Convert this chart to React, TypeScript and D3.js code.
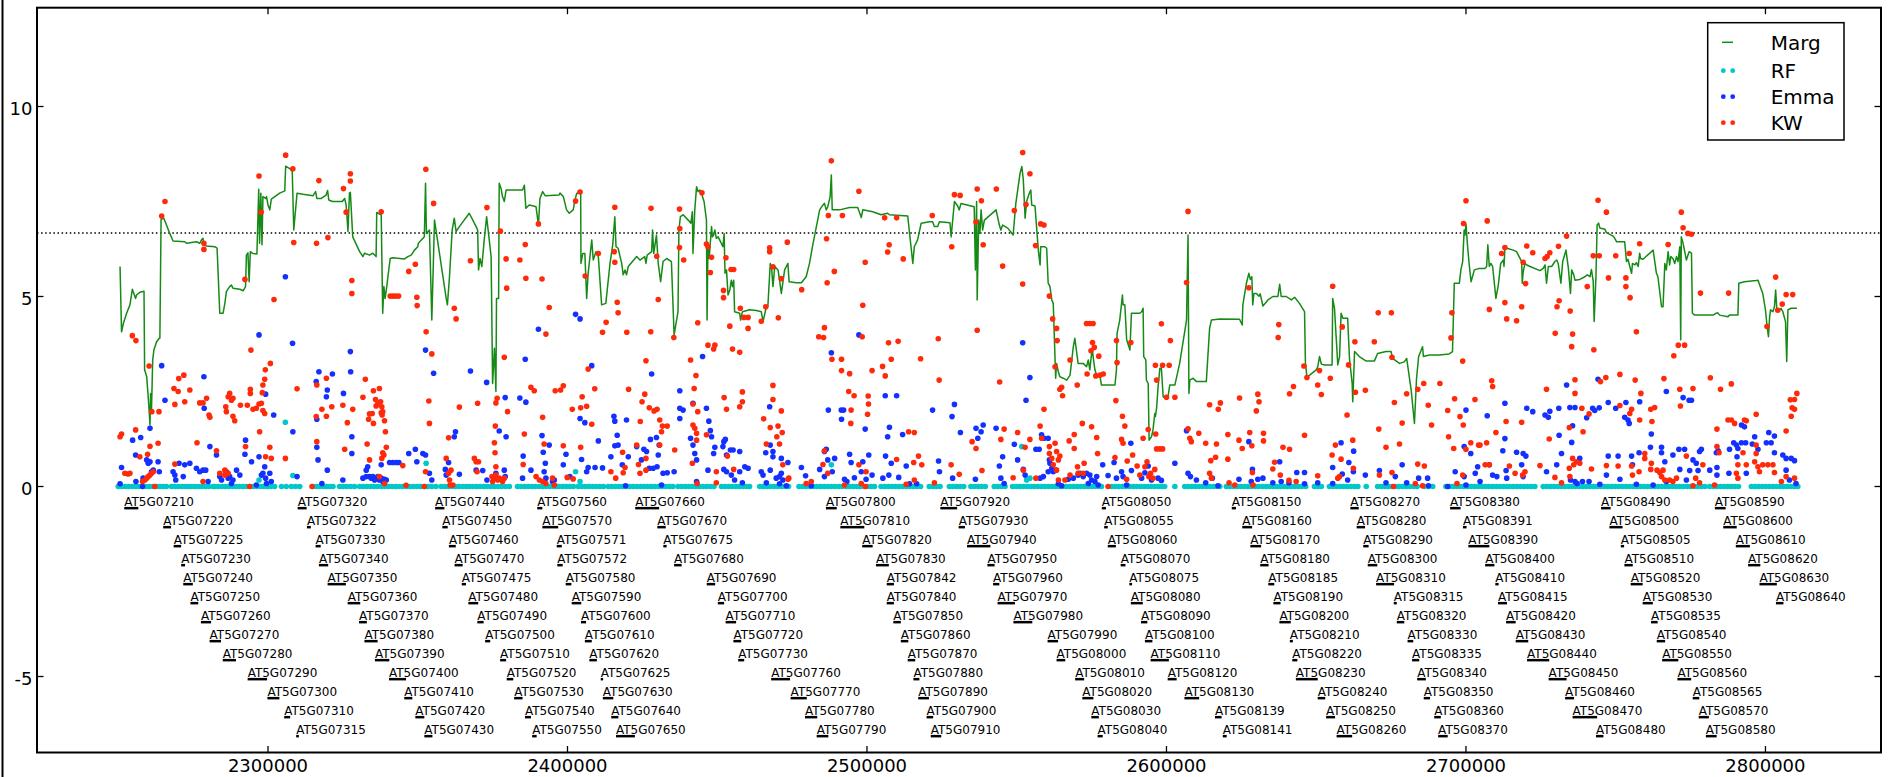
import React from 'react';
import * as d3 from 'd3';

// Axis limits and ticks
const xLimits = [2222870, 2838580];
const yLimits = [-7, 12.6];
const xTickValues = [2300000, 2400000, 2500000, 2600000, 2700000, 2800000];
const yTickValues = [-5, 0, 5, 10];
const threshold = 6.67;

// Marg score trace: [position (kb), score]
const margTrace: [number, number][] = [
[2250.6,5.79],[2251.1,4.07],[2251.7,4.29],[2252.8,4.56],[2253.9,4.78],[2254.7,5.19],[2255.8,4.95],[2256.1,5.04],[2257.2,5.11],[2258.6,5.14],[2258.8,3.07],[2259.5,2.89],[2260.0,2.36],[2260.3,2.01],[2260.6,1.62],[2260.8,2.45],[2261.1,2.01],[2261.5,3.33],[2261.9,3.59],[2262.8,3.81],[2263.7,3.90],[2263.9,3.90],[2264.3,7.03],[2265.2,7.06],[2266.1,6.88],[2267.2,6.66],[2268.3,6.46],[2272.2,6.44],[2272.8,6.40],[2274.5,6.42],[2276.1,6.44],[2277.2,6.40],[2277.8,6.49],[2278.3,6.53],[2278.6,6.36],[2279.5,6.33],[2282.2,6.31],[2283.0,6.27],[2283.9,4.56],[2285.0,4.56],[2285.6,4.82],[2286.1,5.13],[2287.2,5.26],[2287.8,5.30],[2288.3,5.22],[2290.6,5.19],[2291.7,5.15],[2292.5,5.26],[2292.8,6.09],[2293.3,6.15],[2293.7,5.39],[2294.1,6.18],[2295.0,6.13],[2296.3,6.12],[2296.9,7.82],[2297.2,6.40],[2297.6,7.72],[2298.0,6.36],[2298.3,7.63],[2299.2,7.58],[2299.5,7.63],[2300.0,7.41],[2300.6,7.28],[2301.1,7.56],[2303.9,7.72],[2305.6,7.78],[2305.9,8.43],[2307.5,8.35],[2308.1,8.29],[2308.6,6.75],[2309.7,7.72],[2311.7,7.69],[2315.0,7.65],[2315.9,7.76],[2316.3,7.58],[2317.8,7.58],[2319.4,7.67],[2319.9,7.79],[2320.3,7.54],[2321.5,7.50],[2324.8,7.50],[2325.6,7.58],[2326.1,7.41],[2326.7,6.71],[2327.2,7.72],[2327.5,7.74],[2328.3,6.57],[2330.6,6.18],[2331.7,6.05],[2332.2,6.14],[2333.9,6.09],[2335.0,6.14],[2336.1,6.05],[2336.3,7.21],[2337.2,7.17],[2337.8,7.15],[2338.3,4.56],[2338.7,5.26],[2339.1,4.95],[2339.5,5.17],[2340.8,6.00],[2341.7,6.02],[2345.6,5.99],[2346.7,6.05],[2347.8,6.09],[2348.9,6.22],[2350.0,6.31],[2350.2,6.40],[2352.2,6.57],[2352.6,7.98],[2352.9,6.66],[2353.9,6.75],[2354.7,4.38],[2355.6,7.01],[2359.5,4.95],[2359.9,4.78],[2360.6,5.52],[2361.5,6.75],[2362.2,7.06],[2362.8,6.71],[2363.9,6.84],[2367.2,7.19],[2369.5,6.84],[2370.0,6.75],[2370.3,5.70],[2370.8,6.00],[2371.4,5.79],[2372.2,6.49],[2373.0,7.10],[2374.5,6.05],[2375.0,2.71],[2375.6,3.64],[2376.1,2.50],[2376.3,4.95],[2377.0,4.95],[2377.2,7.98],[2377.8,7.85],[2378.3,7.63],[2378.9,7.50],[2379.5,7.80],[2385.0,7.80],[2385.6,7.93],[2386.1,7.32],[2387.2,7.41],[2388.3,7.39],[2389.5,7.36],[2390.3,6.88],[2390.8,7.58],[2391.7,7.76],[2392.6,7.65],[2397.2,7.67],
[2397.5,7.72],[2398.6,7.63],[2399.7,7.28],[2400.6,7.19],[2401.9,7.28],[2402.5,7.54],[2403.1,7.72],[2404.4,7.72],[2404.5,5.87],[2405.1,6.13],[2405.8,6.13],[2406.4,4.95],[2406.9,5.61],[2408.1,6.49],[2408.6,5.96],[2409.5,6.18],[2410.3,6.05],[2411.4,4.78],[2412.8,4.82],[2414.2,5.87],[2415.1,6.36],[2415.8,7.10],[2416.2,6.31],[2416.9,6.27],[2418.1,5.87],[2418.6,5.57],[2419.2,5.70],[2419.7,5.57],[2420.3,5.79],[2423.1,6.05],[2424.2,5.96],[2425.8,6.05],[2426.2,5.87],[2426.6,6.09],[2428.1,6.18],[2428.4,6.75],[2428.8,6.13],[2429.7,6.62],[2430.3,5.87],[2431.1,5.39],[2431.9,5.92],[2433.1,6.00],[2434.7,5.92],[2435.6,3.99],[2436.9,4.60],[2437.2,6.75],[2437.7,7.10],[2438.6,7.15],[2440.3,7.01],[2441.2,6.93],[2441.7,7.23],[2441.9,6.13],[2442.5,7.28],[2443.1,7.89],[2443.6,7.76],[2444.2,7.80],[2444.7,7.72],[2445.6,7.50],[2446.4,7.01],[2446.6,4.38],[2446.9,6.31],[2447.3,6.00],[2448.1,6.84],[2448.4,6.57],[2448.8,6.62],[2449.2,6.75],[2449.7,6.53],[2450.3,6.57],[2450.8,6.49],[2451.9,6.31],[2452.3,6.66],[2452.6,5.61],[2453.1,5.70],[2453.6,5.04],[2454.2,5.17],[2454.7,5.43],[2455.1,5.26],[2455.5,5.43],[2455.8,4.60],[2457.5,4.56],[2457.8,4.38],[2458.4,4.60],[2460.8,4.65],[2463.1,4.63],[2464.7,4.60],[2465.3,4.34],[2466.4,4.73],[2466.9,4.73],[2467.7,5.87],[2468.2,5.70],[2468.6,5.26],[2469.2,5.79],[2470.3,5.70],[2470.8,5.43],[2471.4,5.08],[2472.5,5.70],[2473.6,5.87],[2474.0,5.39],[2476.4,5.36],[2478.1,5.36],[2479.7,5.52],[2480.8,5.87],[2482.0,6.40],[2483.1,6.84],[2484.2,7.28],[2485.3,7.41],[2485.8,7.45],[2486.4,7.28],[2486.9,7.36],[2487.7,7.63],[2488.1,8.20],[2488.4,7.28],[2490.8,7.28],[2494.2,7.34],[2496.9,7.34],[2497.5,7.21],[2498.1,7.08],[2498.6,7.28],[2501.9,7.23],[2504.7,7.15],[2506.9,7.19],[2507.5,7.15],[2513.6,7.12],[2515.3,5.87],[2515.8,6.31],[2516.9,6.49],[2518.1,6.93],[2520.8,6.97],[2521.9,6.97],[2522.5,6.84],[2523.6,6.84],[2524.2,6.97],[2527.7,6.94],[2528.1,6.57],[2529.2,7.50],[2530.3,7.38],[2530.8,7.28],[2531.4,7.45],[2535.8,7.36],[2536.2,5.70],[2536.6,7.50],[2536.8,4.91],[2537.3,7.01],[2537.7,6.66],[2538.1,7.28],[2538.6,6.75],[2539.2,7.01],[2543.1,7.28],[2544.2,6.88],[2544.7,6.75],[2545.3,6.88],[2547.0,6.80],[2548.8,6.62],[2549.7,7.45],[2550.8,8.07],
[2551.1,8.24],[2551.7,8.42],[2552.2,8.07],[2552.8,7.06],[2553.3,7.50],[2554.2,7.72],[2554.7,7.80],[2555.0,7.41],[2556.1,7.38],[2556.7,6.75],[2557.2,6.22],[2557.8,5.83],[2558.0,6.31],[2559.4,6.31],[2560.0,6.27],[2560.5,5.35],[2561.1,5.26],[2561.7,4.91],[2562.2,4.82],[2562.5,4.07],[2563.0,2.85],[2563.3,3.24],[2563.9,3.02],[2564.4,2.89],[2565.5,2.85],[2566.7,2.80],[2567.8,2.93],[2568.9,3.68],[2569.4,3.90],[2570.5,3.24],[2572.2,3.24],[2573.3,3.15],[2573.9,3.33],[2574.4,3.07],[2575.0,3.50],[2575.3,3.55],[2576.1,3.07],[2576.7,2.93],[2577.8,2.89],[2578.3,2.67],[2582.8,2.67],[2583.3,3.07],[2583.5,4.03],[2584.4,4.38],[2585.3,5.04],[2585.5,4.78],[2586.1,4.78],[2586.7,3.86],[2587.8,3.59],[2588.3,4.56],[2591.1,4.56],[2591.7,4.60],[2592.2,4.69],[2592.4,3.42],[2593.1,3.33],[2593.3,2.80],[2593.9,2.71],[2594.2,1.22],[2595.0,1.31],[2595.5,1.49],[2596.1,1.92],[2596.3,1.84],[2596.7,2.06],[2597.2,2.63],[2597.8,3.11],[2598.3,3.11],[2598.9,2.36],[2600.0,2.32],[2600.5,2.36],[2601.1,2.67],[2602.8,2.67],[2604.4,3.24],[2606.7,4.38],[2607.2,6.62],[2607.5,2.45],[2607.8,2.80],[2608.9,2.85],[2610.0,2.76],[2613.3,2.76],[2614.4,4.16],[2615.0,4.38],[2617.8,4.41],[2624.4,4.40],[2625.3,4.25],[2625.5,4.78],[2626.7,5.35],[2627.5,5.61],[2628.0,5.45],[2628.5,5.52],[2628.8,4.78],[2629.2,5.08],[2630.0,5.08],[2630.9,5.01],[2631.3,5.07],[2632.2,4.75],[2633.9,4.91],[2635.5,5.00],[2637.2,5.00],[2637.8,5.32],[2638.3,5.00],[2640.0,5.00],[2641.7,4.91],[2642.8,4.98],[2644.4,4.82],[2646.1,4.60],[2646.4,3.24],[2646.9,2.89],[2647.8,2.93],[2650.0,3.07],[2650.5,3.15],[2651.1,3.42],[2651.7,3.22],[2652.8,3.20],[2655.3,3.20],[2655.5,4.95],[2656.1,4.69],[2657.2,3.20],[2657.8,3.42],[2658.3,4.56],[2658.9,4.43],[2660.5,4.43],[2661.1,3.37],[2662.0,2.71],[2662.2,2.23],[2662.8,3.55],[2664.4,3.42],[2666.7,3.30],[2669.4,3.30],[2670.5,3.50],[2673.3,3.55],[2675.0,3.55],[2675.5,3.37],[2677.8,3.24],[2679.4,3.28],[2680.2,3.37],[2681.7,2.54],[2682.8,1.66],[2683.5,2.85],[2684.2,3.42],[2685.5,3.68],[2685.8,3.42],[2687.8,3.46],[2691.1,3.46],[2694.4,3.49],[2695.5,3.55],[2696.1,5.35],[2697.8,5.35],[2698.3,5.70],[2698.9,5.92],[2699.4,6.75],[2699.7,6.62],[2700.0,6.91],[2700.5,6.36],[2701.1,5.83],[2701.7,5.39],[2702.8,5.70],[2704.4,5.74],
[2706.4,5.74],[2706.9,5.79],[2707.3,6.36],[2707.8,5.79],[2708.3,5.87],[2708.9,5.79],[2710.0,4.95],[2710.8,5.30],[2711.6,5.87],[2712.5,5.96],[2712.7,5.79],[2713.0,6.27],[2713.6,6.27],[2715.8,6.22],[2716.9,6.18],[2718.6,5.92],[2718.8,5.35],[2719.1,5.65],[2719.7,5.87],[2720.3,5.83],[2721.4,5.79],[2724.7,5.68],[2725.8,5.74],[2726.4,5.83],[2726.9,5.35],[2727.5,5.79],[2728.6,5.79],[2729.7,5.92],[2730.3,5.96],[2730.8,5.87],[2731.7,5.35],[2732.3,5.92],[2733.4,6.22],[2734.2,5.74],[2734.9,5.08],[2735.3,5.70],[2736.0,5.57],[2736.4,5.43],[2738.0,5.45],[2739.7,5.52],[2740.5,5.57],[2741.4,5.52],[2741.9,5.71],[2742.5,5.39],[2742.8,4.34],[2743.4,5.52],[2743.8,6.88],[2744.3,6.93],[2744.7,6.80],[2746.4,6.77],[2746.9,6.68],[2749.1,6.59],[2749.7,6.53],[2750.3,6.44],[2753.0,6.44],[2753.6,5.92],[2754.1,5.98],[2754.7,5.79],[2755.3,5.61],[2755.6,5.87],[2756.4,5.83],[2756.9,5.89],[2757.5,5.79],[2758.0,6.14],[2758.3,6.00],[2759.1,5.98],[2762.5,6.22],[2763.6,5.61],[2764.1,5.52],[2765.3,4.73],[2765.8,4.73],[2766.4,5.87],[2766.9,5.70],[2767.5,6.18],[2768.0,5.83],[2768.4,6.05],[2769.1,6.00],[2769.7,5.87],[2770.3,6.05],[2770.8,5.92],[2771.4,6.31],[2771.7,3.86],[2771.9,6.57],[2772.5,6.40],[2773.6,5.96],[2774.5,6.18],[2775.3,6.14],[2775.6,4.56],[2776.4,4.51],[2782.5,4.51],[2783.6,4.56],[2784.1,4.57],[2784.7,4.51],[2787.5,4.47],[2788.0,4.51],[2790.8,4.51],[2791.1,5.35],[2793.0,5.39],[2796.9,5.42],[2797.5,5.43],[2799.1,5.08],[2800.0,4.65],[2800.5,4.25],[2801.0,3.94],[2801.4,4.47],[2801.7,4.65],[2802.5,4.60],[2803.0,4.73],[2803.4,5.17],[2803.8,4.66],[2804.7,4.65],[2805.2,4.69],[2805.8,4.60],[2806.7,4.34],[2807.1,3.29],[2807.5,4.65],[2808.6,4.69],[2810.5,4.69]
];

// RF scores: most markers sit at zero
const rfZeroPos = [
2250.0,2251.2,2252.3,2253.5,2254.6,2255.8,2257.0,2258.1,2259.3,2260.4,2261.6,2262.8,2263.9,2265.0,2266.1,2267.8,2269.0,2270.1,2271.3,2272.4,2273.5,2274.5,2275.6,2276.8,2277.9,2279.1,2280.3,2281.7,2282.2,2283.4,2284.6,2285.7,2286.9,2288.1,2289.3,2290.4,2291.6,2292.8,2294.0,2295.1,2296.3,2297.5,2298.6,2299.8,2301.0,2302.2,2304.5,2306.1,2307.8,2309.2,2310.6,2315.0,2316.2,2317.3,2318.5,2319.6,2320.7,2321.7,2323.9,2325.1,2326.3,2327.6,2328.9,
2330.6,2331.8,2333.0,2334.2,2335.4,2336.6,2337.8,2339.0,2340.2,2341.4,2342.6,2343.8,2345.0,2346.2,2347.4,2348.6,2349.8,2351.0,2352.2,2353.4,2354.7,2356.1,2357.8,2359.0,2360.2,2361.4,2362.6,2363.8,2365.0,2366.1,2367.2,2368.4,2369.6,2370.8,2372.0,2373.2,2374.4,2375.6,2376.8,2378.0,2379.3,2380.6,2383.3,2384.5,2385.7,2386.9,2388.1,2389.3,2390.5,2391.7,2392.9,2394.1,2395.3,2396.5,2397.2,2398.4,2399.6,2400.8,2402.0,
2403.6,2404.8,2406.0,2407.2,2408.4,2409.6,2410.8,2412.0,2413.6,2414.8,2416.0,2417.2,2418.4,2419.6,2420.8,2422.0,2423.2,2424.4,2425.6,2426.8,2428.0,2429.2,2430.4,2431.6,2432.8,2434.0,2435.2,2436.9,2438.1,2439.3,2440.5,2441.7,2442.9,2444.1,2445.3,2446.5,2447.7,2448.9,2451.4,2452.6,2453.8,2455.0,2456.2,2457.4,2458.6,2459.8,2460.8,2464.2,2465.4,2466.6,2467.8,2469.0,2470.2,2471.4,2472.6,2473.8,
2477.3,2478.5,2479.7,2480.9,2482.1,2483.3,2484.5,2485.7,2486.9,2488.1,2489.3,2490.6,2491.8,2493.0,2494.2,2495.4,2496.6,2497.8,2499.0,2500.2,2501.4,2502.5,2504.7,2505.9,2507.1,2508.3,2509.5,2510.7,2511.9,2513.1,2514.3,2515.5,2516.7,2517.9,2520.8,2522.0,2523.2,2524.4,2527.5,2528.7,2529.9,2531.1,2532.3,2534.7,2535.9,2537.1,2538.3,2539.5,2542.5,2543.7,2544.9,2546.1,
2548.6,2549.8,2551.0,2552.2,2553.4,2554.6,2555.8,2557.0,2558.2,2559.4,2560.6,2561.8,2563.0,2564.2,2565.4,2566.6,2567.8,2569.0,2570.2,2571.4,2572.6,2573.8,2575.0,2576.2,2577.4,2578.3,2581.7,2582.9,2584.1,2585.3,2586.5,2587.7,2588.9,2590.1,2591.3,2592.5,2593.7,2594.9,2596.1,2597.3,2598.5,2599.4,2602.8,
2606.1,2607.3,2608.5,2609.7,2610.9,2612.1,2613.3,2614.5,2615.7,2616.9,2617.8,2620.0,2621.2,2622.4,2623.6,2624.8,2626.0,2627.2,2628.4,2629.6,2630.8,2632.0,2633.2,2634.4,2635.6,2636.8,2638.0,2639.2,2640.4,2641.6,2642.8,2644.0,2645.2,2646.5,2649.4,2650.6,2651.7,2654.4,2655.6,2656.8,2658.0,2659.2,2660.4,2661.6,2662.8,2663.9,2666.7,
2670.5,2671.7,2672.9,2674.1,2675.3,2676.5,2677.7,2678.9,2680.1,2681.3,2682.5,2683.7,2686.1,2687.5,2688.9,2693.3,2694.5,2695.7,2696.9,2698.1,2699.3,2700.5,2701.7,2702.9,2704.1,2705.3,2706.5,2707.7,2708.9,2710.1,2711.3,2712.5,2713.7,2714.7,2715.8,2717.0,2718.2,2719.4,2720.6,2721.8,2723.0,
2725.8,2727.0,2728.2,2729.4,2730.6,2731.8,2733.0,2734.2,2735.4,2736.6,2737.8,2739.0,2740.2,2741.4,2742.6,2743.8,2745.0,2746.2,2747.4,2748.6,2749.8,2751.0,2752.2,2753.4,2754.6,2755.8,2757.0,2758.2,2759.4,2760.6,2761.8,2763.0,2764.2,2765.4,2766.6,2767.8,2769.0,2770.2,2771.4,2772.6,2773.8,2775.0,2776.2,2777.4,2778.6,2779.8,
2781.4,2782.6,2783.8,2785.0,2786.2,2787.4,2788.6,2789.8,2791.0,2795.3,2796.5,2797.7,2798.9,2800.1,2801.3,2802.5,2803.7,2804.9,2806.1,2807.3,2808.5,2809.7,2810.8
];
const rfRaised: [number, number][] = [
[2305.8,1.69],[2308.3,0.29],[2297.0,0.17],[2352.8,0.61],[2402.7,0.39],[2404.2,0.13],[2488.1,0.57],[2551.7,1.05],[2553.3,0.17],[2554.4,0.22]
];

// Emma scores: [position (kb), score]
const emmaPoints: [number, number][] = [
[2250.6,0.07],[2251.1,0.50],[2254.8,1.22],[2255.8,0.83],[2255.9,0.13],[2257.5,1.29],[2258.1,0.00],[2258.3,0.22],[2259.5,0.70],[2260.0,0.61],[2260.6,0.65],[2261.1,0.39],[2261.7,0.43],[2260.6,1.53],[2263.3,0.65],[2263.7,0.39],[2264.5,3.18],[2265.6,2.27],[2268.3,0.39],[2268.9,0.30],[2269.2,0.17],[2270.3,0.61],[2271.7,0.26],[2272.2,0.57],[2273.9,0.61],[2276.1,0.48],[2277.2,0.39],[2278.3,0.43],[2278.6,2.89],[2278.7,2.06],[2279.2,0.43],[2280.0,0.13],[2280.6,1.05],[2282.8,0.83],[2283.9,0.26],[2284.5,0.17],[2286.1,0.39],[2286.7,0.22],[2287.2,0.26],[2287.8,0.08],[2288.3,0.17],[2289.5,0.43],[2290.6,0.30],[2292.5,1.22],[2292.3,0.85],[2294.5,0.65],[2296.1,0.04],[2297.0,0.78],[2297.0,3.99],[2297.8,0.30],[2298.3,0.35],[2298.9,0.52],[2299.2,2.43],[2299.5,0.08],[2300.6,0.35],[2301.1,0.13],[2301.9,1.88],[2299.2,0.22],
[2305.8,5.52],[2308.2,3.77],[2308.3,1.44],[2309.7,0.26],[2316.1,2.76],[2316.3,1.03],[2316.3,1.77],[2316.7,0.70],[2317.0,3.02],[2319.8,2.54],[2319.5,2.36],[2321.5,2.96],[2319.8,0.43],[2318.0,0.08],[2325.0,0.17],[2325.2,2.45],[2327.5,3.55],[2327.6,3.02],[2328.0,1.31],[2328.0,0.87],[2332.8,0.43],[2333.3,0.52],[2333.9,0.26],[2334.5,0.22],[2335.0,0.26],[2335.6,0.17],[2336.1,0.22],[2336.7,0.26],[2337.2,0.17],[2337.8,0.22],[2338.3,0.13],[2338.9,0.19],[2339.5,0.17],[2332.8,0.26],[2331.7,0.22],[2337.8,0.57],[2340.6,0.63],[2341.7,0.63],[2342.8,0.63],[2343.7,0.63],[2347.0,0.87],[2349.2,0.98],[2349.7,0.65],[2351.7,0.87],[2352.6,0.83],[2352.6,3.59],[2355.3,2.98],[2353.9,0.35],[2354.7,0.17],[2359.2,0.45],[2359.5,0.30],[2360.3,0.63],[2362.6,1.44],[2362.2,1.31],[2363.9,0.32],[2367.6,3.04],[2369.5,0.43],[2371.7,0.42],[2373.0,2.74],[2373.1,0.17],[2376.1,0.35],[2377.2,1.46],[2379.2,2.34],[2379.5,1.31],[2378.9,0.43],[2379.2,0.26],[2384.1,2.33],[2386.1,2.22],[2385.9,3.35],[2385.0,0.22],[2385.2,0.80],[2387.8,0.43],[2390.3,4.14],[2391.5,1.34],[2391.9,0.90],[2392.2,0.39],[2392.6,0.61],[2393.9,1.09],[2392.8,0.22],[2395.0,0.13],[2395.6,0.17],
[2402.7,4.53],[2404.2,4.41],[2408.1,3.18],[2399.5,0.85],[2398.6,0.57],[2400.8,0.26],[2404.2,1.79],[2405.8,1.68],[2404.7,0.71],[2406.9,0.50],[2409.2,0.50],[2411.7,0.49],[2410.3,1.20],[2406.4,0.39],[2415.5,1.85],[2415.8,1.72],[2416.6,1.35],[2415.8,1.07],[2416.9,1.09],[2414.5,0.78],[2419.7,1.75],[2420.3,0.78],[2418.3,0.57],[2419.4,0.02],[2423.1,1.05],[2425.5,0.98],[2426.4,0.92],[2424.7,0.70],[2428.1,2.96],[2427.7,1.24],[2429.7,1.29],[2430.6,1.09],[2430.3,0.83],[2427.3,0.48],[2428.6,0.48],[2429.9,0.52],[2431.4,0.04],[2431.9,0.35],[2433.3,0.36],[2435.6,0.39],[2437.5,2.52],[2437.5,2.06],[2437.5,1.79],[2438.6,2.01],[2441.1,1.27],[2441.9,2.19],[2445.1,3.42],[2446.4,2.06],[2447.2,1.72],[2447.7,1.47],[2448.1,1.31],[2441.9,1.09],[2442.5,0.87],[2443.1,0.70],[2449.2,1.03],[2448.8,0.87],[2446.9,0.43],[2443.1,0.13],[2452.2,1.18],[2452.7,1.24],[2451.9,1.05],[2454.4,0.96],[2455.3,0.96],[2457.5,0.92],[2453.1,0.83],[2452.2,0.45],[2453.1,0.39],[2454.7,0.30],[2455.8,0.17],[2457.5,0.39],[2459.2,0.52],[2460.3,0.48],[2458.4,0.10],
[2464.7,0.39],[2465.3,0.30],[2466.2,0.89],[2467.5,2.10],[2467.7,1.09],[2468.6,0.92],[2468.6,0.78],[2467.7,0.43],[2466.4,0.10],[2469.7,0.22],[2470.8,0.26],[2471.4,0.35],[2471.9,0.17],[2471.4,0.74],[2473.6,0.63],[2470.8,0.07],[2473.1,0.02],[2478.1,0.50],[2479.5,0.28],[2481.4,0.02],[2484.2,0.45],[2485.8,0.92],[2486.4,0.98],[2485.8,0.26],[2486.9,0.70],[2488.4,0.39],[2489.2,0.74],[2488.1,3.52],[2487.1,2.01],[2491.4,2.01],[2492.2,2.01],[2491.5,1.77],[2494.2,0.85],[2494.7,0.63],[2492.5,0.19],[2493.3,0.13],[2495.8,0.23],[2497.3,3.99],[2499.4,1.51],[2498.6,0.65],[2498.1,0.39],[2499.7,0.19],[2500.6,0.83],[2501.7,0.30],[2505.3,0.22],[2506.2,0.80],[2506.1,2.39],[2509.9,2.39],[2507.5,1.56],[2506.9,1.31],[2508.1,0.61],[2507.3,0.30],[2510.6,0.24],[2511.9,1.37],[2513.1,0.54],[2514.2,0.07],[2516.6,0.07],[2521.9,2.01],[2523.9,0.67],[2524.2,0.39],[2528.4,1.84],[2529.2,2.16],[2531.2,1.42],[2528.6,0.22],[2536.4,1.53],[2537.0,1.27],[2538.1,1.44],[2538.8,1.62],[2536.2,0.19],[2543.1,1.53],[2545.3,0.78],[2544.2,0.54],[2544.7,0.22],[2545.8,0.08],[2549.2,1.11],[2550.3,0.70],
[2552.0,3.78],[2554.4,2.87],[2553.1,2.27],[2552.2,0.45],[2552.8,0.30],[2556.4,0.98],[2557.5,0.98],[2558.3,1.36],[2559.1,1.27],[2560.5,1.27],[2560.9,0.70],[2561.1,0.61],[2561.7,0.48],[2562.2,0.39],[2563.1,0.43],[2560.5,0.39],[2558.9,0.26],[2557.8,0.22],[2563.9,0.07],[2565.0,0.02],[2567.2,0.19],[2568.9,0.22],[2570.5,0.30],[2571.1,0.35],[2572.2,0.26],[2573.3,0.35],[2574.4,0.30],[2575.0,0.17],[2576.1,0.13],[2577.2,0.04],[2576.7,0.26],[2573.9,0.08],[2578.7,0.57],[2580.5,0.29],[2582.5,0.63],[2583.3,0.22],[2585.0,0.39],[2585.5,0.26],[2588.1,1.14],[2588.3,0.42],[2586.7,0.04],[2591.7,0.22],[2592.8,0.36],[2593.9,0.54],[2595.0,0.17],[2597.2,0.22],[2598.3,0.16],[2602.8,0.61],[2606.7,1.47],[2607.2,0.35],[2608.0,0.26],[2610.0,0.17],[2613.1,0.10],[2615.3,0.22],[2617.2,0.02],[2624.2,0.19],[2627.5,1.18],[2628.7,0.45],[2628.3,0.13],[2630.5,0.19],[2632.2,0.22],[2635.5,0.10],[2637.8,0.65],[2638.3,0.13],[2640.9,0.10],[2643.5,0.37],[2646.1,0.37],[2646.1,0.07],[2650.5,0.10],[2655.5,0.50],[2655.5,0.08],[2658.3,1.15],[2658.7,0.33],[2660.5,0.17],[2660.9,0.63],[2662.5,0.93],[2662.4,0.39],[2666.4,0.30],[2671.1,0.42],[2673.3,0.10],[2676.4,0.26],[2678.7,0.57],[2680.2,0.10],[2684.2,0.22],[2687.2,0.22],[2687.5,0.02],[2693.9,0.00],[2696.4,0.39],[2700.0,2.01],[2699.4,1.05],[2701.6,0.87],[2699.4,0.26],[2703.1,0.35],[2703.9,0.52],[2700.0,0.04],
[2707.1,1.86],[2707.8,0.57],[2708.9,0.30],[2710.3,0.26],[2704.7,0.13],[2713.0,2.19],[2713.0,1.26],[2712.3,0.94],[2713.4,0.42],[2713.6,0.22],[2716.9,0.90],[2719.1,0.87],[2720.0,0.80],[2718.6,0.57],[2719.1,0.26],[2720.3,2.06],[2722.3,1.97],[2726.4,1.88],[2728.0,1.98],[2727.5,1.82],[2726.9,0.39],[2730.3,0.57],[2731.1,1.35],[2731.9,0.87],[2731.0,2.06],[2733.6,2.67],[2734.7,2.08],[2736.4,2.08],[2735.6,1.60],[2735.3,1.16],[2738.0,0.74],[2734.9,0.17],[2736.4,0.13],[2737.1,0.08],[2738.9,0.13],[2741.1,0.13],[2740.3,1.81],[2742.3,2.06],[2743.0,2.00],[2744.5,2.07],[2744.1,2.82],[2747.5,2.21],[2750.0,2.06],[2753.4,2.21],[2753.0,1.82],[2754.1,1.75],[2754.5,1.66],[2758.0,2.23],[2747.5,0.80],[2750.8,0.80],[2755.3,0.80],[2757.8,0.89],[2755.6,0.57],[2746.9,0.30],[2751.4,0.19],[2744.7,0.06],[2756.9,0.06],[2761.9,1.38],[2761.6,1.03],[2765.3,1.03],[2765.3,0.89],[2766.4,0.65],[2769.1,0.83],[2771.1,0.98],[2773.0,0.98],[2775.8,0.70],[2776.9,0.61],[2778.0,0.92],[2778.6,0.98],[2771.4,0.45],[2774.7,0.42],[2777.5,0.42],[2766.9,2.50],[2772.5,2.34],[2774.5,2.27],[2775.3,2.27],[2762.5,0.04],[2766.9,0.13],[2773.6,0.17],[2781.4,0.43],[2783.6,0.89],[2784.2,0.94],[2783.8,0.50],[2783.8,0.30],[2787.8,0.35],[2788.0,0.98],[2789.4,1.15],[2790.3,1.09],[2790.8,1.00],[2792.0,1.15],[2793.4,1.15],[2790.5,0.78],[2792.0,1.62],[2793.0,1.57],[2793.6,0.35],[2796.4,1.31],[2795.6,1.12],[2797.5,0.98],[2800.3,1.15],[2801.9,1.15],[2801.1,1.42],[2803.0,1.33],[2803.0,0.89],[2805.8,0.83],[2806.9,0.74],[2808.6,0.74],[2809.7,0.68],[2806.9,0.43],[2808.0,0.17],[2810.2,0.08]
];

// KW scores: [position (kb), score]
const kwPoints: [number, number][] = [
[2250.6,1.31],[2251.1,1.38],[2254.7,3.97],[2255.9,3.84],[2252.2,0.35],[2253.3,0.33],[2253.9,0.35],[2255.8,1.49],[2257.2,0.78],[2259.8,0.85],[2260.6,1.06],[2260.3,3.17],[2261.2,1.97],[2263.3,1.14],[2263.6,1.97],[2264.5,7.12],[2265.6,7.50],[2258.1,0.13],[2258.9,0.17],[2259.5,0.22],[2260.0,0.26],[2260.6,0.30],[2261.1,0.35],[2261.7,0.39],[2262.2,0.00],[2268.6,2.58],[2268.9,2.16],[2270.2,2.84],[2270.0,2.50],[2271.9,2.93],[2272.2,2.23],[2273.9,2.54],[2268.9,0.59],[2276.3,1.15],[2277.2,2.20],[2278.3,2.20],[2279.5,2.32],[2280.3,1.88],[2280.6,1.82],[2282.8,0.94],[2283.9,0.35],[2285.6,0.43],[2285.9,2.10],[2286.1,1.97],[2286.7,2.36],[2287.2,2.45],[2287.8,2.27],[2288.3,2.32],[2288.3,1.85],[2288.9,1.73],[2290.8,2.14],[2293.1,2.14],[2292.5,1.05],[2294.3,3.59],[2294.1,2.56],[2294.1,2.45],[2295.0,2.03],[2296.1,2.06],[2297.0,2.17],[2297.8,2.19],[2298.1,2.47],[2298.3,2.67],[2298.9,2.82],[2299.1,3.07],[2300.8,3.24],[2297.2,1.44],[2297.0,8.17],[2297.7,7.22],[2302.0,4.92],[2292.3,5.45],[2298.3,2.00],[2298.9,1.92],[2300.6,1.03],[2301.1,0.74],[2299.2,0.78],[2293.9,0.00],[2278.6,6.40],[2278.6,6.24],[2278.3,0.13],[2285.6,0.30],[2286.7,0.35],
[2305.9,8.72],[2308.3,8.36],[2308.6,6.42],[2305.8,0.74],[2309.7,2.57],[2314.7,0.00],[2316.2,6.40],[2317.0,8.05],[2320.0,6.55],[2316.3,2.67],[2316.3,1.18],[2316.1,1.84],[2319.5,2.85],[2318.0,2.03],[2319.5,1.85],[2321.3,2.10],[2325.2,7.84],[2326.1,7.22],[2327.5,8.23],[2327.5,8.04],[2328.0,5.42],[2328.0,5.08],[2325.0,2.14],[2325.6,0.98],[2326.5,1.68],[2328.3,2.03],[2332.5,2.82],[2331.7,2.35],[2333.1,1.12],[2333.6,1.77],[2333.9,1.91],[2334.8,1.92],[2335.2,1.66],[2335.2,2.52],[2335.9,2.29],[2336.1,2.12],[2336.6,2.17],[2337.2,2.58],[2337.6,2.23],[2337.8,1.94],[2338.0,2.10],[2338.1,1.88],[2338.3,1.97],[2338.9,1.73],[2339.2,1.44],[2339.5,1.03],[2338.3,0.89],[2338.7,0.83],[2338.0,0.74],[2337.2,0.26],[2338.9,0.08],[2333.9,0.70],[2337.8,7.23],[2340.8,5.01],[2341.7,5.01],[2342.6,5.01],[2343.6,5.01],[2345.0,0.55],[2346.1,0.03],[2347.0,5.66],[2349.2,5.85],[2349.7,4.98],[2349.8,4.76],[2352.7,8.35],[2355.3,7.45],[2352.8,4.07],[2354.7,3.49],[2353.7,2.25],[2353.9,1.66],[2352.6,0.39],[2352.2,0.00],
[2359.5,0.74],[2360.3,0.35],[2360.6,0.17],[2361.1,0.43],[2361.7,0.04],[2360.8,0.04],[2360.3,1.28],[2362.2,4.69],[2362.8,4.41],[2363.9,2.09],[2367.6,5.94],[2368.9,0.74],[2369.5,0.65],[2370.3,0.65],[2370.0,2.19],[2369.8,0.39],[2373.1,7.34],[2374.8,0.26],[2375.0,0.13],[2375.6,0.22],[2376.1,0.30],[2376.7,0.17],[2377.2,0.22],[2378.3,0.13],[2378.9,0.22],[2375.6,1.15],[2375.8,0.89],[2375.9,1.59],[2376.1,2.20],[2376.5,2.32],[2376.1,0.52],[2377.6,6.72],[2379.5,5.99],[2379.7,5.22],[2378.9,3.40],[2380.0,1.97],[2384.1,5.96],[2385.9,6.37],[2386.1,5.48],[2385.6,1.38],[2385.2,0.58],[2390.3,6.91],[2387.8,2.61],[2388.9,2.52],[2391.5,5.46],[2391.7,1.82],[2392.2,1.12],[2392.8,4.01],[2393.9,4.71],[2395.9,2.52],[2389.5,0.26],[2390.6,0.17],[2391.7,0.13],[2392.8,0.08],[2395.0,0.22],[2395.6,0.04],
[2397.7,2.54],[2398.6,2.65],[2402.7,7.51],[2404.2,7.75],[2405.9,5.54],[2410.3,6.13],[2415.6,6.18],[2415.8,5.90],[2415.8,7.35],[2416.6,4.85],[2416.9,4.57],[2411.7,4.06],[2412.9,4.32],[2419.8,4.06],[2427.9,7.32],[2429.8,6.06],[2430.3,4.92],[2427.8,4.07],[2437.4,7.30],[2437.5,6.79],[2437.4,6.29],[2438.8,5.96],[2435.5,3.92],[2444.9,7.73],[2446.4,6.38],[2446.9,6.31],[2448.1,6.03],[2447.7,5.63],[2443.5,4.31],[2446.9,3.72],[2449.2,3.72],[2448.8,3.62],[2452.9,6.02],[2454.6,5.71],[2455.5,5.71],[2452.1,5.16],[2452.1,4.97],[2454.2,4.22],[2455.1,3.62],[2457.5,3.53],[2457.7,4.69],[2458.9,4.45],[2460.3,4.45],[2460.3,4.16],[2464.7,4.35],[2466.2,4.73],[2467.5,6.28],[2467.5,6.18],[2468.6,5.78],[2471.4,5.47],[2473.4,6.43],[2470.4,4.44],[2478.2,5.18],[2486.5,6.52],[2487.1,7.13],[2488.1,8.57],[2491.8,7.13],[2497.3,7.77],[2486.7,5.36],[2489.1,5.66],[2485.8,4.18],[2483.9,3.94],[2485.5,3.92],[2488.3,3.35],[2491.5,3.35],[2491.5,3.05],[2494.2,2.97],[2498.6,4.77],[2499.4,5.90],[2498.4,3.94],[2505.9,7.07],[2509.9,7.07],[2507.4,6.36],[2506.9,6.17],[2512.1,5.99],[2507.2,3.78],[2510.4,3.82],[2508.1,3.35],[2505.2,3.16],[2506.1,2.91],[2501.7,3.05],[2517.9,3.36],[2521.8,7.13],[2528.3,6.31],[2529.2,7.68],[2531.1,7.66],[2536.8,7.83],[2536.4,6.96],[2538.2,7.52],[2543.2,7.83],[2538.8,6.36],[2545.3,5.80],[2549.2,7.26],[2536.8,4.11],[2523.8,3.89],[2524.1,2.80],[2544.3,2.75],
[2398.6,1.07],[2399.9,0.24],[2401.9,0.20],[2401.6,2.03],[2404.4,2.07],[2406.4,2.11],[2404.9,2.36],[2406.9,3.09],[2408.1,1.64],[2409.1,2.57],[2404.4,1.03],[2414.5,0.39],[2416.1,0.22],[2418.4,0.90],[2418.6,0.36],[2419.2,0.50],[2420.4,2.56],[2423.1,1.09],[2423.7,0.58],[2424.2,0.35],[2424.3,1.71],[2424.9,2.23],[2425.8,2.43],[2426.2,3.31],[2426.2,0.74],[2426.2,0.43],[2427.3,2.07],[2428.9,1.99],[2429.9,2.03],[2430.8,1.75],[2431.7,1.59],[2431.4,1.44],[2433.3,1.59],[2430.8,1.09],[2435.8,0.96],[2441.1,3.33],[2442.9,2.92],[2442.3,2.58],[2441.9,2.17],[2443.5,1.97],[2441.9,1.62],[2442.5,1.53],[2443.1,1.40],[2443.1,1.22],[2446.4,1.36],[2441.7,0.61],[2443.3,0.08],[2452.3,2.34],[2453.1,2.03],[2458.4,2.49],[2458.4,2.23],[2457.5,2.10],[2453.4,0.80],[2455.5,0.45],[2449.7,0.39],[2449.7,0.10],[2468.6,2.66],[2468.6,2.29],[2465.5,1.78],[2471.4,1.99],[2467.7,1.55],[2470.3,1.59],[2471.7,1.42],[2469.9,1.31],[2466.4,1.12],[2470.8,1.12],[2471.9,0.57],[2473.9,0.22],[2473.6,0.19],[2479.7,0.08],[2481.4,0.13],[2485.8,0.94],[2485.3,0.58],[2486.9,0.35],[2493.9,2.50],[2495.7,2.39],[2494.7,2.01],[2494.6,1.66],[2500.4,2.38],[2500.5,2.17],[2500.2,1.90],[2497.3,0.57],[2499.7,0.39],[2492.5,0.04],[2498.1,0.08],[2499.5,0.00],[2509.9,0.71],[2513.9,1.44],[2515.8,1.42],[2517.2,0.80],[2518.3,0.57],[2515.6,0.63],[2513.1,0.06],[2515.8,0.17],[2522.5,0.10],[2528.1,0.57],[2530.8,0.32],[2535.1,1.18],[2536.4,1.00],[2538.4,0.42],[2545.8,1.51],[2544.7,1.24],[2550.3,1.42],[2548.8,0.23],
[2552.0,8.79],[2554.4,8.23],[2553.1,7.42],[2552.0,5.33],[2558.0,6.91],[2559.1,6.88],[2556.3,6.34],[2560.9,5.01],[2562.0,4.41],[2563.3,4.16],[2563.5,3.84],[2562.8,3.15],[2565.0,2.61],[2564.4,2.56],[2565.3,2.39],[2567.8,3.33],[2570.2,2.67],[2573.3,4.29],[2574.4,4.29],[2575.5,4.29],[2575.3,3.79],[2575.9,3.66],[2574.8,3.57],[2577.4,3.43],[2573.5,2.96],[2576.4,2.91],[2577.8,2.93],[2578.9,2.96],[2583.3,3.84],[2583.5,3.26],[2588.1,3.79],[2583.1,2.26],[2585.3,1.85],[2586.1,1.59],[2598.3,4.28],[2601.3,3.84],[2596.3,3.19],[2598.7,3.19],[2600.9,3.19],[2596.7,2.80],[2600.0,2.35],[2602.8,2.35],[2593.9,1.50],[2596.4,1.38],[2607.2,7.24],[2606.7,5.37],[2627.5,5.23],[2637.5,4.26],[2637.3,3.92],[2645.9,3.17],[2646.9,2.87],[2651.1,3.05],[2654.7,2.85],[2650.5,2.67],[2651.7,2.42],[2642.4,2.63],[2641.1,2.44],[2655.5,5.27],[2658.7,4.20],[2660.8,3.20],[2662.9,3.81],[2663.1,2.48],[2660.3,1.88],[2666.4,2.53],[2669.4,3.81],[2670.7,4.57],[2675.1,4.57],[2675.3,3.40],[2676.1,2.21],[2680.2,2.44],[2678.7,1.67],[2683.9,2.56],[2685.9,2.71],[2687.4,2.14],[2688.5,1.62],[2691.3,2.71],[2695.3,4.57],[2695.0,3.91],[2698.9,3.30],[2700.0,7.52],[2699.2,6.92],[2696.2,2.31],[2693.9,2.00],[2698.0,1.84],[2699.1,1.62],[2703.0,2.29],[2694.2,1.31],[2695.9,1.00],[2700.0,0.98],[2701.6,1.15],[2704.2,1.09],[2697.0,0.08],[2698.9,0.30],
[2552.2,0.43],[2552.8,1.03],[2554.4,1.24],[2556.4,0.22],[2557.8,1.59],[2559.1,2.03],[2558.3,1.27],[2560.9,1.05],[2560.9,0.87],[2561.7,0.74],[2562.8,1.14],[2562.2,0.57],[2563.3,0.92],[2563.9,0.70],[2564.4,0.80],[2563.3,0.43],[2563.9,0.17],[2566.1,0.17],[2567.8,0.30],[2567.5,1.20],[2569.2,1.37],[2569.2,1.00],[2570.3,0.52],[2570.5,0.35],[2571.9,1.66],[2572.5,0.61],[2572.2,0.35],[2575.0,1.57],[2576.7,1.29],[2577.0,0.87],[2580.5,0.00],[2582.8,0.76],[2585.0,1.24],[2585.5,1.14],[2586.9,0.67],[2588.7,0.83],[2586.7,0.19],[2590.2,0.54],[2591.1,0.30],[2592.2,1.27],[2592.8,0.52],[2593.5,0.65],[2594.1,0.26],[2594.7,0.35],[2595.5,0.22],[2596.1,0.45],[2596.7,0.99],[2597.8,0.99],[2598.7,0.99],[2607.2,1.52],[2607.8,1.27],[2608.3,1.18],[2610.8,1.40],[2613.1,1.14],[2614.8,0.68],[2616.4,0.77],[2614.4,0.35],[2615.0,0.22],[2614.4,2.15],[2617.3,2.03],[2618.0,2.20],[2616.7,1.12],[2620.5,1.37],[2620.5,0.72],[2620.9,0.10],[2622.8,0.04],[2624.4,2.33],[2624.2,1.22],[2625.3,1.00],[2627.8,1.42],[2628.5,1.07],[2630.5,2.43],[2630.9,2.23],[2630.0,1.99],[2632.4,1.40],[2632.4,1.20],[2628.7,0.37],[2628.9,0.04],[2636.1,0.64],[2635.5,0.46],[2638.0,0.30],[2638.9,1.03],[2641.1,0.98],[2640.9,0.16],[2643.3,0.13],[2646.1,1.35],[2650.5,0.28],[2655.3,0.83],[2656.4,1.09],[2657.2,0.22],[2658.3,0.72],[2657.8,0.26],[2662.2,1.22],[2662.4,0.48],[2670.9,1.51],[2671.1,0.30],[2673.3,1.03],[2677.8,1.12],[2675.3,0.37],[2675.8,0.00],[2683.1,0.08],[2683.9,0.59],[2686.1,0.54],[2685.5,0.02],
[2707.1,6.99],[2713.0,6.29],[2711.9,6.13],[2707.8,4.66],[2713.0,4.84],[2713.6,4.41],[2716.9,4.36],[2718.6,4.73],[2719.1,5.90],[2719.9,5.34],[2720.3,6.33],[2722.3,6.15],[2726.4,6.00],[2727.1,6.05],[2728.0,6.15],[2730.9,6.32],[2733.6,6.59],[2730.4,4.73],[2731.1,4.89],[2729.8,4.03],[2734.8,4.62],[2735.6,4.01],[2735.3,3.68],[2740.5,5.26],[2742.7,3.60],[2744.1,7.53],[2746.9,7.22],[2742.5,6.07],[2744.5,6.07],[2747.6,5.49],[2750.0,6.07],[2753.4,5.49],[2753.4,5.26],[2754.5,6.13],[2754.8,4.97],[2756.9,4.07],[2758.0,6.39],[2767.5,6.37],[2769.4,3.44],[2770.9,3.72],[2773.0,3.72],[2771.9,7.22],[2772.5,6.81],[2774.1,6.66],[2775.3,6.64],[2778.3,5.09],[2787.7,5.09],[2803.4,5.51],[2800.5,4.21],[2804.1,4.64],[2805.6,4.80],[2806.9,5.05],[2809.1,5.05],
[2704.7,1.09],[2706.9,1.15],[2708.6,2.78],[2708.9,2.63],[2710.0,1.42],[2713.4,1.71],[2706.4,0.57],[2707.8,0.57],[2714.5,0.54],[2716.4,0.35],[2718.6,1.69],[2718.9,0.30],[2719.7,0.39],[2724.7,0.55],[2726.9,2.56],[2727.8,1.25],[2729.7,0.24],[2731.9,0.10],[2736.4,2.81],[2736.4,2.45],[2734.5,1.55],[2738.7,2.06],[2739.1,1.44],[2741.1,1.91],[2735.6,0.74],[2736.0,0.57],[2736.9,0.65],[2738.0,0.61],[2734.5,0.48],[2734.7,0.26],[2741.9,0.46],[2744.9,2.76],[2746.7,2.87],[2751.4,2.95],[2751.4,2.13],[2755.3,2.03],[2754.7,1.92],[2756.5,2.80],[2758.4,2.45],[2758.0,1.75],[2761.7,2.03],[2763.0,2.08],[2762.1,1.71],[2746.9,0.55],[2750.8,0.54],[2755.3,0.54],[2755.6,0.30],[2757.8,0.39],[2759.7,0.87],[2759.7,0.74],[2761.9,0.61],[2761.7,0.45],[2763.8,0.43],[2764.7,0.37],[2765.8,0.43],[2765.3,0.26],[2766.4,0.17],[2768.0,0.17],[2769.1,0.13],[2770.3,0.22],[2766.1,2.84],[2771.6,2.12],[2771.4,2.56],[2775.8,2.58],[2773.6,0.80],[2776.7,0.22],[2775.8,0.02],[2778.0,0.10],[2779.1,0.57],[2781.6,2.86],[2785.0,2.56],[2788.6,2.70],[2787.5,1.75],[2788.6,1.75],[2789.7,1.66],[2793.0,1.75],[2793.6,1.73],[2796.9,1.90],[2783.8,1.51],[2783.8,1.05],[2784.5,0.89],[2783.0,0.04],[2790.8,0.57],[2792.5,0.89],[2793.6,0.57],[2790.3,0.35],[2790.8,0.22],[2796.9,1.09],[2796.9,0.87],[2796.4,0.65],[2797.5,0.52],[2798.0,0.39],[2799.1,0.57],[2800.8,0.57],[2802.5,0.57],[2803.0,0.37],[2805.3,0.13],[2806.9,1.46],[2808.6,1.85],[2808.9,2.07],[2809.7,2.03],[2808.3,2.28],[2809.7,2.29],[2810.5,2.45],[2806.9,0.26],[2809.7,0.22]
];

// Gene models: [name, start (kb), end (kb)]
const genes: [string, number, number][] = [
['AT5G07210',2252.0,2256.7],['AT5G07220',2265.0,2267.6],['AT5G07225',2268.5,2271.0],['AT5G07230',2271.0,2272.3],['AT5G07240',2271.7,2274.9],['AT5G07250',2274.1,2276.7],['AT5G07260',2277.6,2281.0],['AT5G07270',2280.5,2284.3],['AT5G07280',2284.9,2289.3],['AT5G07290',2293.2,2299.7],['AT5G07300',2299.8,2303.8],['AT5G07310',2305.4,2307.4],['AT5G07315',2309.4,2310.3],
['AT5G07320',2309.9,2312.9],['AT5G07322',2313.0,2314.3],['AT5G07330',2315.9,2317.6],['AT5G07340',2317.0,2320.1],['AT5G07350',2319.9,2326.0],['AT5G07360',2326.6,2330.8],['AT5G07370',2330.4,2333.0],['AT5G07380',2332.2,2336.6],['AT5G07390',2335.7,2340.5],['AT5G07400',2340.4,2346.1],['AT5G07410',2345.5,2348.2],['AT5G07420',2349.2,2352.2],['AT5G07430',2352.2,2354.9],
['AT5G07440',2355.8,2358.9],['AT5G07450',2358.2,2360.0],['AT5G07460',2360.4,2362.7],['AT5G07470',2362.3,2365.0],['AT5G07475',2364.7,2366.1],['AT5G07480',2366.9,2370.2],['AT5G07490',2369.9,2372.0],['AT5G07500',2372.5,2374.2],['AT5G07510',2377.5,2379.5],['AT5G07520',2379.7,2381.9],['AT5G07530',2382.2,2385.0],['AT5G07540',2385.8,2387.8],['AT5G07550',2388.2,2389.7],
['AT5G07560',2389.9,2391.6],['AT5G07570',2391.6,2396.9],['AT5G07571',2396.4,2398.1],['AT5G07572',2396.6,2398.4],['AT5G07580',2399.4,2401.3],['AT5G07590',2401.4,2404.6],['AT5G07600',2404.5,2406.2],['AT5G07610',2405.8,2408.1],['AT5G07620',2407.3,2409.8],['AT5G07625',2411.1,2411.9],['AT5G07630',2411.8,2415.3],['AT5G07640',2414.6,2417.0],['AT5G07650',2416.2,2422.5],
['AT5G07660',2422.6,2430.6],['AT5G07670',2430.0,2432.8],['AT5G07675',2432.0,2433.1],['AT5G07680',2435.6,2438.1],['AT5G07690',2446.5,2449.3],['AT5G07700',2450.2,2452.3],['AT5G07710',2452.8,2456.3],['AT5G07720',2455.4,2458.0],['AT5G07730',2457.0,2459.0],['AT5G07760',2468.0,2474.3],['AT5G07770',2474.5,2479.9],['AT5G07780',2479.3,2483.4],['AT5G07790',2483.2,2487.1],
['AT5G07800',2486.3,2489.9],['AT5G07810',2491.1,2499.1],['AT5G07820',2498.4,2501.9],['AT5G07830',2503.0,2507.3],['AT5G07842',2506.6,2509.0],['AT5G07840',2506.6,2509.0],['AT5G07850',2508.8,2511.3],['AT5G07860',2511.3,2513.8],['AT5G07870',2513.6,2516.1],['AT5G07880',2515.5,2517.5],['AT5G07890',2517.1,2520.7],['AT5G07900',2519.9,2522.1],['AT5G07910',2521.3,2524.8],
['AT5G07920',2524.5,2530.1],['AT5G07930',2530.6,2532.7],['AT5G07940',2533.4,2541.2],['AT5G07950',2540.2,2542.6],['AT5G07960',2542.1,2544.2],['AT5G07970',2543.6,2549.4],['AT5G07980',2548.9,2555.2],['AT5G07990',2560.3,2563.8],['AT5G08000',2563.3,2566.2],['AT5G08010',2569.5,2572.5],['AT5G08020',2571.9,2575.6],['AT5G08030',2574.9,2577.4],['AT5G08040',2577.0,2578.7],
['AT5G08050',2578.4,2579.8],['AT5G08055',2579.2,2580.4],['AT5G08060',2580.4,2583.1],['AT5G08070',2584.7,2586.3],['AT5G08075',2587.6,2588.5],['AT5G08080',2588.1,2592.1],['AT5G08090',2591.5,2593.6],['AT5G08100',2592.8,2595.3],['AT5G08110',2594.7,2600.8],['AT5G08120',2600.4,2603.4],['AT5G08130',2606.0,2610.9],['AT5G08139',2616.2,2618.4],['AT5G08141',2618.8,2620.1],
['AT5G08150',2621.8,2623.2],['AT5G08160',2625.3,2628.6],['AT5G08170',2628.0,2631.6],['AT5G08180',2631.3,2634.1],['AT5G08185',2634.0,2636.0],['AT5G08190',2635.7,2638.1],['AT5G08200',2637.7,2641.5],['AT5G08210',2641.2,2642.2],['AT5G08220',2642.0,2643.7],['AT5G08230',2643.2,2650.5],['AT5G08240',2650.5,2653.0],['AT5G08250',2653.3,2656.3],['AT5G08260',2656.8,2662.0],
['AT5G08270',2661.4,2664.2],['AT5G08280',2663.5,2666.3],['AT5G08290',2665.7,2667.5],['AT5G08300',2667.2,2670.4],['AT5G08310',2670.0,2676.0],['AT5G08315',2675.9,2676.9],['AT5G08320',2676.9,2679.4],['AT5G08330',2680.5,2682.4],['AT5G08335',2682.0,2684.4],['AT5G08340',2683.7,2686.6],['AT5G08350',2685.9,2688.0],['AT5G08360',2689.4,2691.6],['AT5G08370',2690.7,2693.9],
['AT5G08380',2694.7,2698.2],['AT5G08391',2699.0,2700.2],['AT5G08390',2700.8,2707.8],['AT5G08400',2706.4,2709.5],['AT5G08410',2709.8,2710.9],['AT5G08415',2710.7,2713.7],['AT5G08420',2713.4,2716.6],['AT5G08430',2716.6,2720.8],['AT5G08440',2720.4,2727.8],['AT5G08450',2727.6,2733.6],['AT5G08460',2733.1,2736.1],['AT5G08470',2735.6,2743.8],['AT5G08480',2743.4,2745.9],
['AT5G08490',2745.1,2748.3],['AT5G08500',2747.9,2752.3],['AT5G08505',2751.7,2752.8],['AT5G08510',2752.9,2755.7],['AT5G08520',2755.0,2759.0],['AT5G08530',2759.0,2762.4],['AT5G08535',2761.8,2764.0],['AT5G08540',2763.7,2766.5],['AT5G08550',2765.5,2770.9],['AT5G08560',2770.6,2775.2],['AT5G08565',2775.7,2777.9],['AT5G08570',2777.7,2781.1],['AT5G08580',2780.1,2783.7],
['AT5G08590',2783.1,2786.7],['AT5G08600',2785.9,2790.4],['AT5G08610',2790.1,2794.8],['AT5G08620',2794.2,2798.3],['AT5G08630',2798.0,2803.8],['AT5G08640',2803.5,2806.0]
];

const legendItems = ['Marg', 'RF', 'Emma', 'KW'];

const COLORS = { marg: '#168a16', rf: '#00c8c8', emma: '#1430ff', kw: '#ff2a0a' };
const FONT = 'DejaVu Sans, Verdana, sans-serif';
const ROWS_PER_STACK = 13;

export default function App() {
  const W = 1897, H = 777;
  const left = 37, right = 1881, top = 7.7, bottom = 752.5;
  const x = d3.scaleLinear().domain(xLimits).range([left, right]);
  const y = d3.scaleLinear().domain(yLimits).range([bottom, top]);
  const kb = (v: number) => x(v * 1000);
  const line = d3.line<[number, number]>().x(d => kb(d[0])).y(d => y(d[1]));
  const rfPoints: [number, number][] = [...rfZeroPos.map(p => [p, 0] as [number, number]), ...rfRaised];
  const r = 2.8;
  const tickLen = 6.5;

  const legendX = 1707.7, legendY = 22.7;
  const legendRows = [42.3, 70.7, 96.7, 122.7];

  return (
    <svg width={W} height={H} style={{ position: 'absolute', left: 0, top: 0, background: '#fff' }}
      fontFamily={FONT}>
      <rect x={0} y={0} width={W} height={H} fill="#fff" />
      <line x1={2.5} x2={2.5} y1={0} y2={H} stroke="#000" strokeWidth={2} />

      {/* threshold */}
      <line x1={left} x2={right} y1={y(threshold)} y2={y(threshold)} stroke="#000"
        strokeWidth={1.5} strokeDasharray="1.5,2.6" />

      {/* Marg trace */}
      <path d={line(margTrace) || ''} fill="none" stroke={COLORS.marg} strokeWidth={1.5} strokeLinejoin="round" />

      {/* RF */}
      <g fill={COLORS.rf}>
        {rfPoints.map((d, i) => <circle key={i} cx={kb(d[0])} cy={y(d[1])} r={r} />)}
      </g>
      {/* Emma */}
      <g fill={COLORS.emma}>
        {emmaPoints.map((d, i) => <circle key={i} cx={kb(d[0])} cy={y(d[1])} r={r} />)}
      </g>
      {/* KW */}
      <g fill={COLORS.kw}>
        {kwPoints.map((d, i) => <circle key={i} cx={kb(d[0])} cy={y(d[1])} r={r} />)}
      </g>

      {/* gene models */}
      <g fontSize={12} fill="#000">
        {genes.map((g, i) => {
          const row = i % ROWS_PER_STACK;
          const base = y(-0.5 - 0.5 * row);
          const barY = y(-0.57 - 0.5 * row);
          return (
            <g key={g[0]}>
              <rect x={kb(g[1])} y={barY - 1.25} width={Math.max(1.5, kb(g[2]) - kb(g[1]))} height={2.5} fill="#000" />
              <text x={kb(g[1])} y={base}>{g[0]}</text>
            </g>
          );
        })}
      </g>

      {/* axes frame */}
      <rect x={left} y={top} width={right - left} height={bottom - top} fill="none" stroke="#000" strokeWidth={2} />
      <g stroke="#000" strokeWidth={1.3}>
        {xTickValues.map(t => (
          <g key={t}>
            <line x1={x(t)} x2={x(t)} y1={bottom} y2={bottom - tickLen} />
            <line x1={x(t)} x2={x(t)} y1={top} y2={top + tickLen} />
          </g>
        ))}
        {yTickValues.map(t => (
          <g key={t}>
            <line x1={left} x2={left + tickLen} y1={y(t)} y2={y(t)} />
            <line x1={right} x2={right - tickLen} y1={y(t)} y2={y(t)} />
          </g>
        ))}
      </g>
      <g fontSize={18} fill="#000">
        {xTickValues.map(t => (
          <text key={t} x={x(t)} y={771.5} textAnchor="middle">{t}</text>
        ))}
        {yTickValues.map(t => (
          <text key={t} x={left - 4.5} y={y(t) + 8} textAnchor="end">{t}</text>
        ))}
      </g>

      {/* legend */}
      <rect x={legendX} y={legendY} width={136.3} height={117.3} fill="#fff" stroke="#000" strokeWidth={1.5} />
      <line x1={1722} x2={1733} y1={legendRows[0]} y2={legendRows[0]} stroke={COLORS.marg} strokeWidth={1.5} />
      {[COLORS.rf, COLORS.emma, COLORS.kw].map((c, i) => (
        <g key={c} fill={c}>
          <circle cx={1723.3} cy={legendRows[i + 1]} r={2.4} />
          <circle cx={1732.7} cy={legendRows[i + 1]} r={2.4} />
        </g>
      ))}
      <g fontSize={20} fill="#000">
        {legendItems.map((t, i) => (
          <text key={t} x={1770.7} y={legendRows[i] + 7.3}>{t}</text>
        ))}
      </g>
    </svg>
  );
}
